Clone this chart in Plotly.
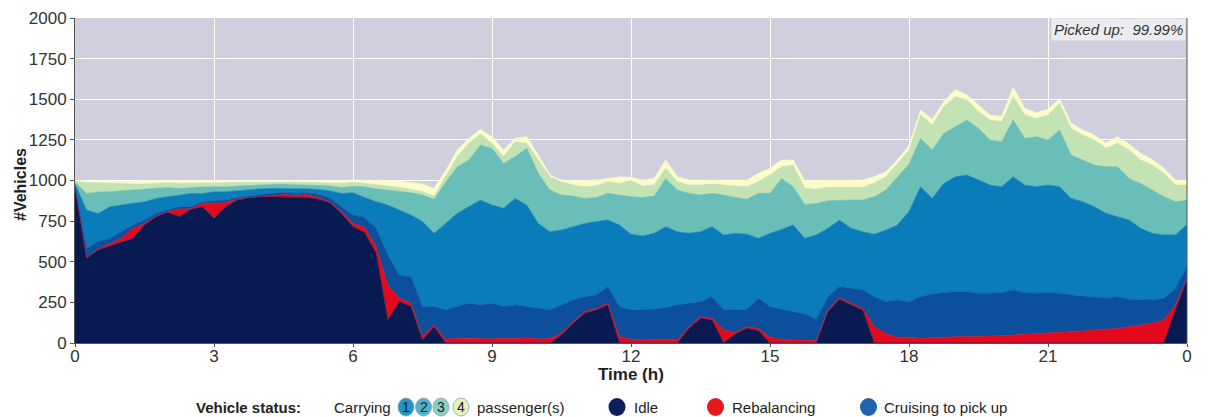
import numpy as np
import plotly.graph_objects as go

# time grid (hours), one value every 15 minutes
hours = [i * 0.25 for i in range(97)]

# cumulative tops of each stacked status band (#vehicles)
top_idle = [
    960, 521, 572, 597,
    623, 644, 726, 777,
    804, 777, 822, 838,
    767, 838, 879, 894,
    900, 900, 900, 896,
    896, 884, 863, 797,
    715, 680, 552, 142,
    254, 224, 18, 100,
    0, 0, 0, 0,
    0, 0, 0, 0,
    0, 0, 50, 121,
    183, 203, 234, 0,
    0, 0, 0, 0,
    0, 90, 152, 141,
    0, 55, 90, 76,
    0, 0, 0, 0,
    0, 193, 269, 234,
    203, 0, 0, 0,
    0, 0, 0, 0,
    0, 0, 0, 0,
    0, 0, 0, 0,
    0, 0, 0, 0,
    0, 0, 0, 0,
    0, 0, 0, 203,
    390]

top_rebalancing = [
    962, 525, 578, 613,
    644, 705, 736, 781,
    808, 824, 826, 859,
    863, 863, 884, 896,
    900, 904, 914, 908,
    914, 896, 869, 808,
    735, 712, 593, 357,
    275, 244, 39, 111,
    23, 29, 30, 28,
    25, 30, 28, 32,
    25, 28, 60, 131,
    193, 213, 244, 39,
    23, 18, 23, 23,
    18, 100, 162, 152,
    80, 64, 100, 90,
    35, 23, 18, 18,
    14, 203, 279, 244,
    213, 100, 59, 35,
    35, 29, 33, 39,
    39, 39, 39, 43,
    45, 49, 53, 59,
    59, 66, 70, 74,
    80, 84, 90, 100,
    111, 121, 141, 234,
    400]

top_cruising = [
    970, 582, 623, 644,
    685, 726, 756, 797,
    818, 838, 838, 869,
    875, 880, 896, 904,
    910, 920, 927, 920,
    924, 914, 896, 838,
    790, 773, 706, 541,
    418, 408, 224, 224,
    203, 224, 244, 234,
    244, 224, 234, 224,
    213, 203, 234, 265,
    285, 295, 347, 224,
    203, 203, 207, 219,
    234, 244, 254, 285,
    203, 203, 207, 275,
    224, 207, 193, 178,
    146, 285, 347, 336,
    326, 285, 254, 265,
    254, 285, 301, 310,
    316, 316, 306, 306,
    310, 326, 310, 306,
    310, 306, 295, 289,
    281, 275, 285, 269,
    265, 265, 275, 336,
    470]

top_carry1 = [
    980, 818, 797, 838,
    849, 859, 869, 890,
    900, 910, 920, 920,
    931, 931, 937, 945,
    949, 951, 951, 951,
    949, 945, 937, 920,
    925, 896, 870, 849,
    818, 788, 747, 675,
    736, 798, 839, 880,
    849, 829, 890, 849,
    736, 685, 695, 716,
    736, 747, 757, 726,
    670, 658, 675, 716,
    685, 675, 685, 716,
    665, 675, 670, 644,
    675, 699, 726, 644,
    665, 706, 757, 706,
    685, 670, 695, 726,
    810, 962, 890, 982,
    1023, 1034, 1003, 972,
    962, 1023, 972, 962,
    972, 962, 890, 870,
    839, 798, 777, 757,
    706, 675, 665, 665,
    730]

top_carry2 = [
    990, 920, 930, 931,
    937, 941, 945, 951,
    957, 951, 957, 961,
    961, 961, 966, 970,
    974, 978, 978, 974,
    974, 970, 966, 957,
    965, 962, 950, 941,
    935, 925, 911, 884,
    990, 1085, 1126, 1218,
    1198, 1105, 1147, 1198,
    1044, 941, 911, 904,
    890, 896, 921, 911,
    900, 896, 904, 1013,
    941, 921, 911, 921,
    911, 896, 884, 921,
    921, 1013, 962, 853,
    859, 876, 880, 880,
    880, 900, 941, 1023,
    1100, 1259, 1188, 1290,
    1331, 1372, 1321, 1249,
    1239, 1372, 1259, 1270,
    1249, 1311, 1157, 1126,
    1095, 1085, 1085, 1013,
    982, 941, 900, 870,
    880]

top_carry3 = [
    997, 988, 986, 982,
    982, 978, 978, 982,
    986, 982, 982, 986,
    986, 986, 990, 990,
    990, 992, 992, 990,
    990, 986, 986, 982,
    990, 982, 970, 966,
    958, 945, 931, 904,
    1030, 1147, 1229, 1286,
    1229, 1147, 1239, 1229,
    1126, 1023, 993, 972,
    962, 966, 993, 982,
    1000, 966, 972, 1075,
    993, 972, 972, 978,
    972, 966, 962, 993,
    1034, 1085, 1095, 952,
    946, 958, 958, 958,
    958, 986, 1023, 1105,
    1185, 1403, 1341, 1454,
    1516, 1495, 1423, 1372,
    1362, 1516, 1403, 1382,
    1403, 1475, 1321, 1280,
    1249, 1198, 1229, 1188,
    1126, 1095, 1044, 972,
    972]

top_carry4 = [
    1000, 998, 998, 998,
    996, 994, 998, 998,
    1002, 998, 998, 1002,
    1002, 1002, 1002, 1002,
    1002, 1002, 1002, 1002,
    1002, 998, 998, 998,
    1003, 1003, 999, 999,
    995, 987, 978, 952,
    1060, 1188, 1259, 1315,
    1270, 1188, 1259, 1270,
    1157, 1034, 1003, 999,
    999, 1003, 1013, 1023,
    1020, 1003, 1013, 1126,
    1023, 1003, 1003, 1003,
    1007, 1003, 1003, 1044,
    1075, 1126, 1126, 999,
    999, 1003, 1003, 1003,
    1003, 1023, 1054, 1126,
    1215, 1434, 1376, 1485,
    1560, 1526, 1464, 1403,
    1393, 1575, 1444, 1417,
    1438, 1505, 1352, 1311,
    1280, 1229, 1270, 1224,
    1167, 1130, 1075, 1003,
    1000]

x_tickvals = [0, 3, 6, 9, 12, 15, 18, 21, 24]
x_ticktext = ["0", "3", "6", "9", "12", "15", "18", "21", "0"]
y_tickvals = [0, 250, 500, 750, 1000, 1250, 1500, 1750, 2000]
picked_up_text = "Picked up:&nbsp; 99.99%"

bands = [
    ("Idle", top_idle, "#091a52"),
    ("Rebalancing", top_rebalancing, "#e20a1c"),
    ("Cruising to pick up", top_cruising, "#0b4f9d"),
    ("Carrying 1", top_carry1, "#0a7cba"),
    ("Carrying 2", top_carry2, "#69bfb7"),
    ("Carrying 3", top_carry3, "#c3e3b5"),
    ("Carrying 4", top_carry4, "#fcfcca"),
]

fig = go.Figure()
prev = np.zeros(len(hours))
for name, top, color in bands:
    top = np.array(top, dtype=float)
    count = np.clip(top - prev, 0, None)
    prev = np.maximum(top, prev)
    fig.add_trace(go.Scatter(
        x=hours, y=count, name=name, stackgroup="status", mode="lines",
        line=dict(width=0.6, color=color), fillcolor=color, showlegend=False,
    ))

W, H = 1208, 417
L, R, T, B = 75, 21, 18, 74
pw, ph = W - L - R, H - T - B


def px(X):
    return (X - L) / pw


def py(Y):
    return (H - B - Y) / ph


font = "Liberation Sans, Arial, sans-serif"
ly = py(407)
annotations = [
    dict(text=picked_up_text, x=0.999, y=0.999, xref="paper", yref="paper",
         xanchor="right", yanchor="top", showarrow=False,
         font=dict(family=font, size=15, color="#333333", style="italic"),
         bgcolor="#ebebf0", borderpad=2),
    dict(text="<b>Vehicle status:</b>", x=px(194), y=ly, xanchor="left"),
    dict(text="Carrying", x=px(332), y=ly, xanchor="left"),
    dict(text="passenger(s)", x=px(475), y=ly, xanchor="left"),
    dict(text="Idle", x=px(632), y=ly, xanchor="left"),
    dict(text="Rebalancing", x=px(730), y=ly, xanchor="left"),
    dict(text="Cruising to pick up", x=px(882), y=ly, xanchor="left"),
]
for a in annotations[1:]:
    a.update(xref="paper", yref="paper", yanchor="middle", showarrow=False,
             font=dict(family=font, size=15, color="#222222"))

# axis titles placed as text at the reference positions
annotations.append(dict(text="<b>Time (h)</b>", x=px(631), y=py(374),
                        xref="paper", yref="paper", showarrow=False,
                        xanchor="center", yanchor="middle",
                        font=dict(family=font, size=17, color="#222222")))
annotations.append(dict(text="<b>#Vehicles</b>", x=px(20), y=py(185),
                        xref="paper", yref="paper", showarrow=False, textangle=-90,
                        xanchor="center", yanchor="middle",
                        font=dict(family=font, size=16, color="#222222")))

shapes = []
num_circles = [(406, "#2393c4", "1"), (423.5, "#4fb3c8", "2"),
               (441, "#8ccfc2", "3"), (461, "#e2f2ba", "4")]
for cx, col, lab in num_circles:
    shapes.append(dict(type="circle", xref="paper", yref="paper",
                       xsizemode="pixel", ysizemode="pixel",
                       xanchor=px(cx), yanchor=ly, x0=-8, x1=8, y0=-9, y1=9,
                       fillcolor=col, line=dict(color="#8aa6b0", width=0.8)))
    annotations.append(dict(text=lab, x=px(cx), y=ly, xref="paper", yref="paper",
                            showarrow=False, xanchor="center", yanchor="middle",
                            font=dict(family=font, size=14, color="#1a1a2a")))
for cx, col in [(617, "#0b1f5c"), (715.5, "#e41a1c"), (868.5, "#2262ae")]:
    shapes.append(dict(type="circle", xref="paper", yref="paper",
                       xsizemode="pixel", ysizemode="pixel",
                       xanchor=px(cx), yanchor=ly, x0=-8.5, x1=8.5, y0=-9, y1=9,
                       fillcolor=col, line=dict(width=0)))
# right frame edge
shapes.append(dict(type="line", xref="paper", yref="paper", x0=1, x1=1, y0=0, y1=1,
                   line=dict(color="#555555", width=1)))

fig.update_layout(
    width=W, height=H,
    margin=dict(l=L, r=R, t=T, b=B, autoexpand=False),
    paper_bgcolor="white",
    plot_bgcolor="#cfcfde",
    font=dict(family=font, size=17, color="#333333"),
    xaxis=dict(range=[0, 24], tickvals=x_tickvals, ticktext=x_ticktext,
               showgrid=True, gridcolor="white", gridwidth=1,
               showline=True, linecolor="#555555", linewidth=1,
               ticks="outside", ticklen=3, tickcolor="#555555",
               ticklabelstandoff=-5,
               tickfont=dict(size=17, color="#333333"),
               zeroline=False, automargin=False),
    yaxis=dict(range=[0, 2000], tickvals=y_tickvals,
               showgrid=True, gridcolor="white", gridwidth=1,
               showline=True, linecolor="#555555", linewidth=1,
               ticks="outside", ticklen=4, tickcolor="#555555",
               tickfont=dict(size=17, color="#333333"),
               zeroline=False, automargin=False),
    annotations=annotations,
    shapes=shapes,
)

fig.write_html("out.html", config={"displayModeBar": False},
               post_script="document.body.style.margin='0px';")
